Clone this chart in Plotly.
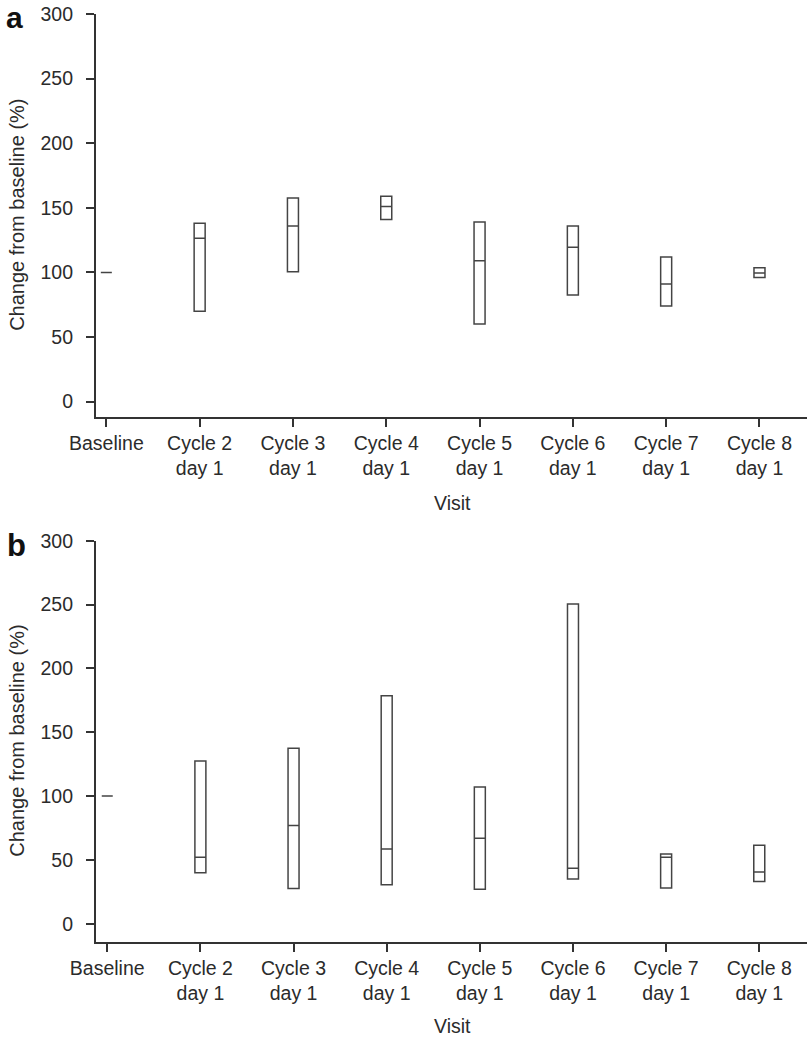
import plotly.graph_objects as go

# ---- data ----
visits = ["Baseline", "Cycle 2<br>day 1", "Cycle 3<br>day 1", "Cycle 4<br>day 1",
          "Cycle 5<br>day 1", "Cycle 6<br>day 1", "Cycle 7<br>day 1", "Cycle 8<br>day 1"]

a_low = [100, 70, 100.5, 141, 60, 82.5, 74, 96]
a_median = [100, 126.5, 136, 151, 109, 119.5, 91, 99.6]
a_high = [100, 138, 157.5, 159, 139, 136, 112, 103.5]

b_low = [100, 40, 27.5, 30.5, 27, 35, 28, 33]
b_median = [100, 52, 77, 58.5, 67, 43.5, 52, 40.5]
b_high = [100, 127.5, 137.5, 178.5, 107, 250.5, 54.5, 61.5]

y_ticks = [0, 50, 100, 150, 200, 250, 300]

# ---- style ----
FONT = "Liberation Sans, Arial, Helvetica, sans-serif"
TXT = "#2b2b2b"
AX = "#333333"
BOX = "#444444"
FS = 19.5
W, H = 812, 1050


def px(x):  # page x pixel -> paper fraction
    return x / W


def py(y):  # page y pixel -> paper fraction
    return 1 - y / H


fig = go.Figure()


def add_panel(low, med, high, xa, ya):
    fig.add_trace(go.Box(
        x=visits, q1=low, median=med, q3=high,
        lowerfence=low, upperfence=high,
        width=0.118, whiskerwidth=0,
        line=dict(color=BOX, width=1.5),
        fillcolor="rgba(0,0,0,0)",
        boxpoints=False, showlegend=False,
        xaxis=xa, yaxis=ya, hoverinfo="skip",
    ))


add_panel(a_low, a_median, a_high, "x", "y")
add_panel(b_low, b_median, b_high, "x2", "y2")


def xaxis_cfg(rng, anchor):
    return dict(
        type="category", categoryorder="array", categoryarray=visits,
        range=rng, domain=[px(95.7), px(806.5)], anchor=anchor,
        automargin=False,
        showline=True, linecolor=AX, linewidth=1.6,
        ticks="outside", ticklen=8, tickwidth=1.6, tickcolor=AX,
        showgrid=False, zeroline=False,
        tickfont=dict(family=FONT, size=FS, color=TXT),
    )


def yaxis_cfg(rng, dom, anchor):
    return dict(
        range=rng, domain=dom, anchor=anchor, autorange=False,
        automargin=False,
        tickvals=y_ticks,
        showline=True, linecolor=AX, linewidth=1.6,
        ticks="outside", ticklen=8, tickwidth=1.6, tickcolor=AX,
        ticklabelstandoff=9,
        showgrid=False, zeroline=False,
        tickfont=dict(family=FONT, size=FS, color=TXT),
    )


# panel a: 300 at y=14px, axis line at 416.7px
# panel b: 300 at y=540.7px, axis line at 941.7px
fig.update_layout(
    width=W, height=H,
    margin=dict(l=0, r=0, t=0, b=0),
    paper_bgcolor="white", plot_bgcolor="white",
    xaxis=xaxis_cfg([-0.114, 7.504], "y"),
    yaxis=yaxis_cfg([-11.7, 300], [py(416.7), py(14)], "x"),
    xaxis2=xaxis_cfg([-0.124, 7.507], "y2"),
    yaxis2=yaxis_cfg([-14.1, 300], [py(941.7), py(540.7)], "x2"),
    showlegend=False,
)

ann = []
# panel letters
ann.append(dict(text="<b>a</b>", x=px(5), y=1, xref="paper", yref="paper",
                xanchor="left", yanchor="top", borderpad=0, showarrow=False,
                font=dict(family=FONT, size=30, color="#111111")))
ann.append(dict(text="<b>b</b>", x=px(5), y=py(545), xref="paper", yref="paper",
                xanchor="left", yanchor="middle", showarrow=False,
                font=dict(family=FONT, size=31, color="#111111")))
for yc in ((14 + 416.7) / 2, (540.7 + 941.7) / 2):
    ann.append(dict(text="Change from baseline (%)", x=px(17.5), y=py(yc),
                    xref="paper", yref="paper", xanchor="center", yanchor="middle",
                    textangle=-90, showarrow=False,
                    font=dict(family=FONT, size=20, color=TXT)))
for yc in (503, 1026):
    ann.append(dict(text="Visit", x=px(452), y=py(yc), xref="paper", yref="paper",
                    xanchor="center", yanchor="middle", showarrow=False,
                    font=dict(family=FONT, size=FS, color=TXT)))
fig.update_layout(annotations=ann)

# remove the page's default body margin so the figure sits at the window's corner
fig.write_html(
    "out.html",
    config={"displayModeBar": False},
    post_script="document.body.style.margin='0';document.body.style.padding='0';",
)
